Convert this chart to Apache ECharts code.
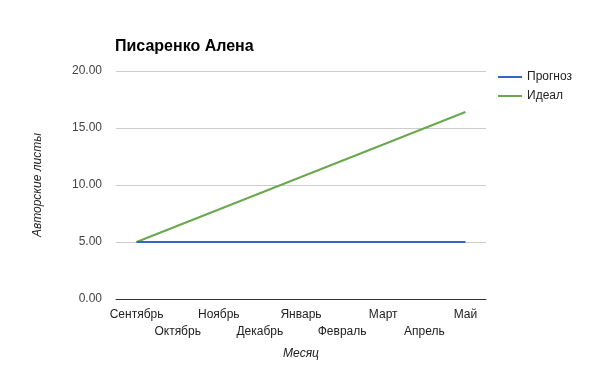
<!DOCTYPE html>
<html><head><meta charset="utf-8">
<script src="https://cdn.jsdelivr.net/npm/echarts@6/dist/echarts.min.js"></script>
<style>html,body{margin:0;padding:0;background:#fff}#c{width:600px;height:371px}</style>
</head><body><div id="c"></div>
<script>
const categories = ['Сентябрь','Октябрь','Ноябрь','Декабрь','Январь','Февраль','Март','Апрель','Май'];
const forecast = [5, 5, 5, 5, 5, 5, 5, 5, 5];
const ideal = [5, 6.43, 7.85, 9.28, 10.7, 12.13, 13.55, 14.98, 16.4];
const yTicks = [0, 5, 10, 15, 20];

const chart = echarts.init(document.getElementById('c'), null, {renderer:'canvas'});
const font = 'Arial, "Liberation Sans", sans-serif';
chart.setOption({
  animation: false,
  title: {text: 'Писаренко Алена', left: 110, top: 34,
    textStyle: {fontFamily: font, fontSize: 16, fontWeight: 'bold', color: '#000'}},
  legend: {orient: 'vertical', left: 493, top: 66, itemGap: 7, itemWidth: 24, itemHeight: 2,
    icon: 'rect',
    textStyle: {fontFamily: font, fontSize: 12, color: '#222'},
    data: ['Прогноз', 'Идеал']},
  grid: {left: 116, right: 114, top: 71, bottom: 72, containLabel: false},
  xAxis: {type: 'category', data: categories, boundaryGap: true,
    name: 'Месяц', nameLocation: 'middle', nameGap: 49,
    nameTextStyle: {fontFamily: font, fontSize: 12, fontStyle: 'italic', color: '#222'},
    axisLine: {lineStyle: {color: '#333', width: 1}},
    axisTick: {show: false},
    axisLabel: {interval: 0, fontFamily: font, fontSize: 12, color: '#222', margin: 7, lineHeight: 17,
      formatter: (v, i) => (i % 2 === 1 ? '\n' + v : v)}},
  yAxis: {type: 'value', min: yTicks[0], max: yTicks[yTicks.length-1], interval: 5,
    name: 'Авторские листы', nameLocation: 'middle', nameGap: 72,
    nameTextStyle: {fontFamily: font, fontSize: 12, fontStyle: 'italic', color: '#222'},
    axisLine: {show: false}, axisTick: {show: false},
    axisLabel: {fontFamily: font, fontSize: 12, color: '#444', margin: 14,
      formatter: v => v.toFixed(2)},
    splitLine: {lineStyle: {color: '#ccc', width: 1}}},
  series: [
    {name: 'Прогноз', type: 'line', data: forecast, showSymbol: false, symbol: 'none',
      lineStyle: {color: '#3366cc', width: 2}, itemStyle: {color: '#3366cc'}, z: 3},
    {name: 'Идеал', type: 'line', data: ideal, showSymbol: false, symbol: 'none',
      lineStyle: {color: '#6aa84f', width: 2}, itemStyle: {color: '#6aa84f'}, z: 2}
  ]
});
</script></body></html>
